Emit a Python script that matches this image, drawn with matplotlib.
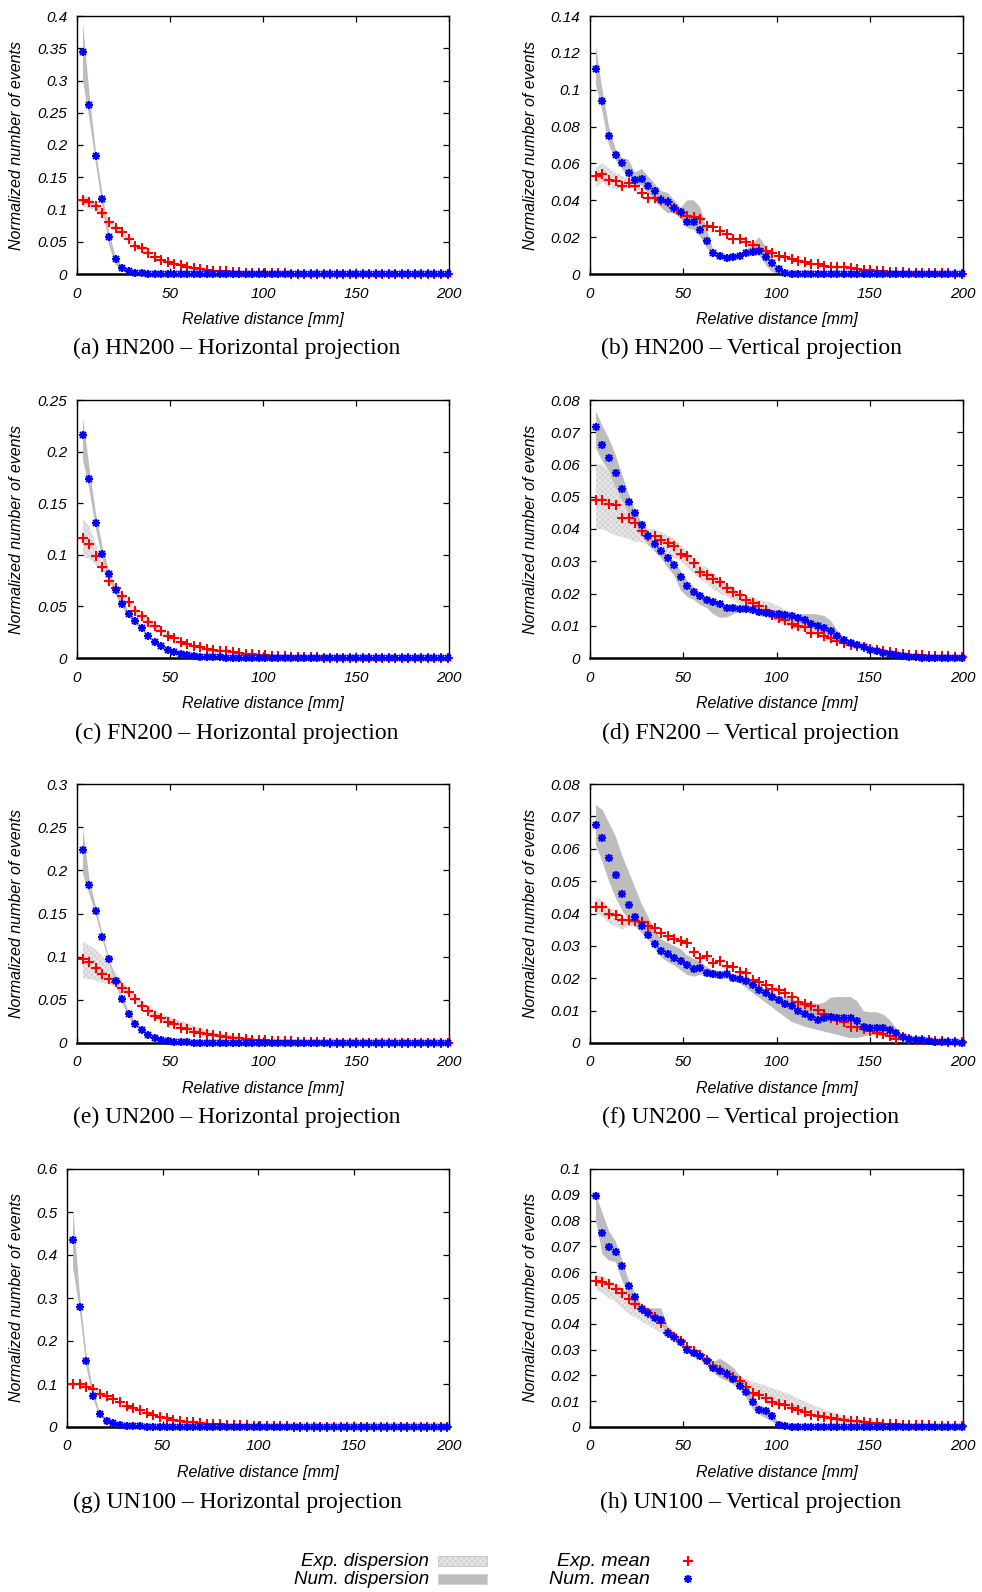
import numpy as np
import matplotlib
matplotlib.use("Agg")
import matplotlib.pyplot as plt
from matplotlib.patches import Rectangle

plt.rcParams['font.family'] = ['Liberation Sans', 'DejaVu Sans']
plt.rcParams['font.style'] = 'italic'
plt.rcParams['hatch.linewidth'] = 0.35

NPTS = 57
# bin centres of the distance histogram [mm]
dist = 3.2 + 3.5 * np.arange(NPTS)


def pad(vals):
    return np.array(vals + [0.0] * (NPTS - len(vals)))


# ---- (a) HN200 horizontal
a_num = pad([0.344, 0.262, 0.183, 0.117, 0.057, 0.023, 0.009, 0.004, 0.002, 0.001])
a_exp = pad([0.115, 0.111, 0.105, 0.094, 0.081, 0.071, 0.065, 0.054, 0.044, 0.041, 0.033, 0.027,
             0.022, 0.018, 0.016, 0.014, 0.011, 0.009, 0.008, 0.006, 0.005, 0.004, 0.004, 0.003,
             0.003, 0.002, 0.002, 0.002, 0.001, 0.001, 0.001, 0.001])
a_num_hi = [0.39, 0.28, 0.19, 0.125, 0.065, 0.028, 0.012, 0.005, 0.002]
a_num_lo = [0.30, 0.24, 0.17, 0.105, 0.045, 0.015, 0.005, 0.001, 0.0]
a_exp_hi = [0.122, 0.118, 0.110, 0.098, 0.084, 0.074, 0.067, 0.056, 0.046, 0.042, 0.034]
a_exp_lo = [0.104, 0.102, 0.099, 0.090, 0.078, 0.068, 0.062, 0.052, 0.042, 0.039, 0.032]

# ---- (b) HN200 vertical
b_num = pad([0.1115, 0.0937, 0.075, 0.0648, 0.060, 0.0549, 0.051, 0.0518, 0.048, 0.045, 0.040,
             0.039, 0.036, 0.0334, 0.028, 0.028, 0.024, 0.018, 0.0116, 0.0098, 0.0085, 0.009,
             0.0098, 0.0116, 0.0117, 0.0126, 0.0094, 0.0058, 0.0025, 0.0007])
b_exp = pad([0.053, 0.054, 0.051, 0.0504, 0.048, 0.0495, 0.048, 0.044, 0.041, 0.041, 0.040, 0.0388,
             0.036, 0.033, 0.0314, 0.0307, 0.0296, 0.026, 0.0256, 0.0235, 0.0217, 0.0188, 0.0188,
             0.0172, 0.0157, 0.0134, 0.0126, 0.0116, 0.0099, 0.0094, 0.0081, 0.007, 0.0067, 0.0054,
             0.0054, 0.0045, 0.004, 0.0036, 0.0036, 0.0033, 0.0025, 0.0022, 0.0022, 0.0018, 0.0014,
             0.0013, 0.0011, 0.0009, 0.0007, 0.0007, 0.0005, 0.0005, 0.0004, 0.0004, 0.0004, 0.0002,
             0.0002])
b_num_hi = [0.124, 0.100, 0.080, 0.068, 0.063, 0.062, 0.055, 0.057, 0.053, 0.049, 0.045, 0.044,
            0.040, 0.036, 0.040, 0.040, 0.036, 0.024, 0.013, 0.011, 0.010, 0.010, 0.011, 0.013,
            0.016, 0.020, 0.015, 0.009, 0.003, 0.001, 0.0]
b_num_lo = [0.103, 0.088, 0.070, 0.062, 0.057, 0.052, 0.048, 0.048, 0.044, 0.040, 0.036, 0.033,
            0.033, 0.030, 0.025, 0.024, 0.020, 0.014, 0.0095, 0.008, 0.0075, 0.008, 0.009, 0.010,
            0.010, 0.010, 0.005, 0.001, 0.0, 0.0, 0.0]
b_exp_hi = [0.058, 0.060, 0.057, 0.055, 0.053, 0.052, 0.050, 0.046]
b_exp_lo = [0.047, 0.050, 0.047, 0.046, 0.046, 0.047, 0.046, 0.042]

# ---- (c) FN200 horizontal
c_num = pad([0.216, 0.173, 0.131, 0.101, 0.081, 0.0655, 0.0526, 0.0429, 0.0358, 0.0287, 0.021,
             0.0155, 0.0113, 0.008, 0.0055, 0.0039, 0.0026, 0.0019, 0.0013, 0.001, 0.0006, 0.0005,
             0.0003, 0.0002, 0.0001])
c_exp = pad([0.116, 0.110, 0.099, 0.088, 0.0748, 0.068, 0.0597, 0.0539, 0.0455, 0.0403, 0.0348,
             0.0306, 0.0261, 0.0216, 0.0194, 0.0155, 0.0135, 0.0113, 0.0103, 0.009, 0.008, 0.0071,
             0.0065, 0.0055, 0.0048, 0.0042, 0.0035, 0.0032, 0.0029, 0.0023, 0.0019, 0.0016,
             0.0013, 0.001, 0.001, 0.0006, 0.0005, 0.0004, 0.0003, 0.0002, 0.0002, 0.0001])
c_num_hi = [0.233, 0.185, 0.140, 0.108, 0.085, 0.069, 0.056, 0.046, 0.038, 0.030, 0.022, 0.016]
c_num_lo = [0.192, 0.163, 0.125, 0.096, 0.077, 0.062, 0.050, 0.040, 0.033, 0.027, 0.020, 0.015]
c_exp_hi = [0.135, 0.127, 0.110, 0.092, 0.078, 0.070, 0.062, 0.056, 0.048, 0.044, 0.038, 0.033,
            0.028, 0.023, 0.021]
c_exp_lo = [0.098, 0.096, 0.090, 0.085, 0.072, 0.066, 0.057, 0.051, 0.043, 0.037, 0.031, 0.028,
            0.024, 0.020, 0.018]

# ---- (d) FN200 vertical
d_num = pad([0.0715, 0.0659, 0.0621, 0.0573, 0.0525, 0.0483, 0.0449, 0.0411, 0.0377, 0.0352,
             0.0332, 0.0309, 0.0288, 0.0251, 0.0224, 0.0204, 0.0191, 0.0181, 0.0174, 0.0168,
             0.0155, 0.0155, 0.0152, 0.0152, 0.0148, 0.0142, 0.0139, 0.0137, 0.0136, 0.0133,
             0.0129, 0.0123, 0.0117, 0.0105, 0.0098, 0.0092, 0.0083, 0.0067, 0.0055, 0.0046,
             0.0039, 0.0033, 0.0026, 0.0021, 0.0015, 0.0011, 0.0008, 0.0005, 0.0003, 0.0002,
             0.0001])
d_exp = pad([0.0489, 0.0489, 0.0479, 0.0473, 0.0435, 0.0433, 0.0418, 0.0395, 0.0379, 0.0378,
             0.0365, 0.0357, 0.0346, 0.0324, 0.0315, 0.0295, 0.0267, 0.0258, 0.0246, 0.0235,
             0.0217, 0.0205, 0.0196, 0.018, 0.0169, 0.016, 0.015, 0.0134, 0.0124, 0.0117,
             0.0105, 0.0098, 0.0095, 0.0079, 0.0077, 0.0067, 0.0062, 0.0052, 0.0046, 0.0041,
             0.0036, 0.0033, 0.0029, 0.0026, 0.0021, 0.0019, 0.0015, 0.0012, 0.001, 0.0009,
             0.0008, 0.0007, 0.0006, 0.0005, 0.0005, 0.0004, 0.0004])
d_num_hi = [0.0765, 0.072, 0.068, 0.063, 0.057, 0.051, 0.046, 0.042, 0.039, 0.036,
            0.034, 0.032, 0.030, 0.027, 0.024, 0.022, 0.020, 0.019, 0.018, 0.017,
            0.0165, 0.016, 0.016, 0.0158, 0.0155, 0.015, 0.0145, 0.0142, 0.014, 0.0138,
            0.0137, 0.0136, 0.0136, 0.0136, 0.0135, 0.013, 0.0115, 0.0085, 0.0065, 0.0052,
            0.0043, 0.0036, 0.003, 0.0024, 0.0018, 0.0014, 0.001, 0.0006, 0.0003]
d_num_lo = [0.065, 0.061, 0.058, 0.053, 0.049, 0.045, 0.041, 0.038, 0.035, 0.033,
            0.031, 0.028, 0.0255, 0.021, 0.019, 0.018, 0.0165, 0.0155, 0.0135, 0.0125,
            0.0125, 0.0135, 0.0145, 0.0145, 0.014, 0.0135, 0.013, 0.013, 0.0128, 0.0125,
            0.012, 0.011, 0.010, 0.0092, 0.0085, 0.0078, 0.0068, 0.0058, 0.0048, 0.004,
            0.0034, 0.003, 0.0022, 0.0017, 0.0012, 0.0008, 0.0005, 0.0002, 0.0]
d_exp_hi = [0.060, 0.060, 0.058, 0.056, 0.052, 0.048, 0.045, 0.042, 0.040, 0.040,
            0.039, 0.038, 0.037, 0.035, 0.033, 0.031, 0.029, 0.028, 0.026, 0.025,
            0.023, 0.022, 0.020, 0.019, 0.019, 0.018, 0.0175, 0.017, 0.016, 0.015,
            0.014, 0.013, 0.012, 0.0108, 0.0098, 0.0088, 0.008, 0.0072, 0.0064, 0.0056,
            0.0048, 0.0042, 0.0037, 0.003, 0.0025, 0.002, 0.0016]
d_exp_lo = [0.040, 0.040, 0.039, 0.038, 0.0375, 0.037, 0.036, 0.036, 0.035, 0.034,
            0.033, 0.032, 0.031, 0.030, 0.028, 0.026, 0.0245, 0.023, 0.021, 0.020,
            0.019, 0.018, 0.0165, 0.015, 0.014, 0.013, 0.0125, 0.012, 0.011, 0.010,
            0.0095, 0.0088, 0.008, 0.0072, 0.0066, 0.006, 0.0052, 0.0046, 0.004, 0.0035,
            0.003, 0.0026, 0.0022, 0.0018, 0.0014, 0.001, 0.0007]

# ---- (e) UN200 horizontal
e_num = pad([0.2238, 0.1827, 0.1529, 0.1231, 0.0968, 0.0716, 0.0515, 0.0333, 0.0225, 0.0147,
             0.0089, 0.0062, 0.0039, 0.0023, 0.0015, 0.0012, 0.0008, 0.0005, 0.0003, 0.0002,
             0.0001])
e_exp = pad([0.0968, 0.0933, 0.0871, 0.0805, 0.0743, 0.0708, 0.0639, 0.0585, 0.0507, 0.0434,
             0.0372, 0.0314, 0.029, 0.0244, 0.0225, 0.0178, 0.0166, 0.0128, 0.0116, 0.0101,
             0.0089, 0.0085, 0.007, 0.0062, 0.0054, 0.0046, 0.0039, 0.0039, 0.0031, 0.0027,
             0.0023, 0.0019, 0.0019, 0.0015, 0.0012, 0.0012, 0.0008, 0.0008, 0.0005, 0.0005,
             0.0004, 0.0003, 0.0003, 0.0002, 0.0002, 0.0001])
e_num_hi = [0.25, 0.19, 0.158, 0.127, 0.100, 0.075, 0.055, 0.037, 0.025, 0.017, 0.010, 0.007]
e_num_lo = [0.196, 0.172, 0.148, 0.120, 0.094, 0.069, 0.048, 0.030, 0.020, 0.013, 0.008, 0.005]
e_exp_hi = [0.118, 0.113, 0.108, 0.100, 0.092, 0.082, 0.072, 0.063, 0.055, 0.048,
            0.042, 0.038, 0.034, 0.031, 0.029, 0.026, 0.023, 0.020, 0.017, 0.015,
            0.013, 0.011, 0.0095, 0.0085, 0.0075, 0.0065, 0.0055, 0.0048]
e_exp_lo = [0.075, 0.074, 0.072, 0.070, 0.068, 0.065, 0.060, 0.055, 0.048, 0.041,
            0.035, 0.030, 0.026, 0.023, 0.020, 0.017, 0.015, 0.012, 0.011, 0.0095,
            0.0085, 0.0078, 0.0068, 0.006, 0.0052, 0.0044, 0.0037, 0.0033]

# ---- (f) UN200 vertical
f_num = pad([0.0673, 0.0634, 0.057, 0.0518, 0.046, 0.0425, 0.0388, 0.0362, 0.0333, 0.0306,
             0.0283, 0.0275, 0.0263, 0.0253, 0.0242, 0.023, 0.0231, 0.0217, 0.0212, 0.021,
             0.0212, 0.0202, 0.0198, 0.0192, 0.0178, 0.0165, 0.0155, 0.0142, 0.0132, 0.0122,
             0.0114, 0.0099, 0.0091, 0.0081, 0.0072, 0.0078, 0.0081, 0.0078, 0.0077, 0.0077,
             0.0068, 0.005, 0.0047, 0.0046, 0.0047, 0.0041, 0.0031, 0.0019, 0.0012, 0.0008,
             0.0008, 0.0006, 0.0004, 0.0003, 0.0002, 0.0002, 0.0001])
f_exp = pad([0.0421, 0.0421, 0.0397, 0.0394, 0.038, 0.038, 0.0376, 0.0374, 0.0361, 0.0355,
             0.0341, 0.0332, 0.032, 0.0316, 0.0308, 0.0281, 0.0263, 0.0268, 0.0248, 0.0252,
             0.0239, 0.0235, 0.022, 0.0215, 0.0194, 0.0189, 0.0178, 0.0168, 0.0163, 0.0153,
             0.0142, 0.0126, 0.012, 0.0114, 0.0103, 0.0091, 0.0078, 0.007, 0.0065, 0.005,
             0.005, 0.0043, 0.0037, 0.0031, 0.0027, 0.0021, 0.0012, 0.0017, 0.0013, 0.001,
             0.0008, 0.0008, 0.0006, 0.0006, 0.0004, 0.0003, 0.0002])
f_num_hi = [0.0735, 0.072, 0.068, 0.064, 0.058, 0.053, 0.048, 0.043, 0.039, 0.035,
            0.032, 0.031, 0.030, 0.029, 0.027, 0.026, 0.025, 0.0235, 0.0225, 0.022,
            0.0222, 0.021, 0.0205, 0.020, 0.019, 0.0178, 0.0165, 0.0155, 0.0145, 0.014,
            0.0135, 0.013, 0.0128, 0.0125, 0.012, 0.0125, 0.014, 0.0142, 0.0142, 0.0142,
            0.013, 0.0098, 0.0095, 0.0095, 0.0088, 0.0072, 0.0045, 0.0025, 0.0012, 0.0007,
            0.0004]
f_num_lo = [0.061, 0.056, 0.050, 0.045, 0.041, 0.038, 0.036, 0.034, 0.032, 0.029,
            0.0265, 0.025, 0.024, 0.0225, 0.021, 0.0205, 0.021, 0.0205, 0.020, 0.0198,
            0.0198, 0.019, 0.0185, 0.017, 0.0155, 0.014, 0.0125, 0.011, 0.0095, 0.008,
            0.0065, 0.0058, 0.005, 0.0045, 0.004, 0.0035, 0.003, 0.0025, 0.002, 0.0015,
            0.0015, 0.002, 0.0025, 0.0025, 0.0022, 0.0018, 0.0012, 0.0008, 0.0004, 0.0002,
            0.0001]
f_exp_hi = [0.045, 0.044, 0.042, 0.041, 0.039, 0.038, 0.038]
f_exp_lo = [0.040, 0.039, 0.037, 0.036, 0.035, 0.036, 0.036]

# ---- (g) UN100 horizontal
g_num = pad([0.435, 0.2795, 0.153, 0.072, 0.030, 0.0147, 0.0085, 0.0054, 0.0031, 0.0023, 0.0015,
             0.001, 0.0008, 0.0005, 0.0003, 0.0002, 0.0001])
g_exp = pad([0.0991, 0.0991, 0.0929, 0.0883, 0.0774, 0.0728, 0.0658, 0.0581, 0.0488, 0.0434,
             0.0387, 0.0317, 0.0279, 0.0232, 0.0201, 0.017, 0.0147, 0.0124, 0.0108, 0.0093,
             0.0077, 0.007, 0.0062, 0.0054, 0.0046, 0.0039, 0.0039, 0.0031, 0.0031, 0.0023,
             0.0023, 0.0015, 0.0012, 0.001, 0.0008, 0.0006, 0.0005, 0.0004, 0.0003, 0.0002,
             0.0002, 0.0001])
g_num_hi = [0.51, 0.31, 0.17, 0.085, 0.035, 0.018, 0.010, 0.006]
g_num_lo = [0.37, 0.27, 0.14, 0.065, 0.025, 0.011, 0.006, 0.004]
g_exp_hi = [0.103, 0.102, 0.096, 0.091, 0.080, 0.075]
g_exp_lo = [0.096, 0.096, 0.090, 0.086, 0.075, 0.071]

# ---- (h) UN100 vertical
h_num = pad([0.0897, 0.0751, 0.0699, 0.0679, 0.0625, 0.0545, 0.0503, 0.0458, 0.0441, 0.0422,
             0.0415, 0.0366, 0.0348, 0.0329, 0.0299, 0.0286, 0.0274, 0.0254, 0.0228, 0.0217,
             0.0205, 0.0186, 0.016, 0.0135, 0.0095, 0.0067, 0.0061, 0.0044, 0.0009, 0.0004])
h_exp = pad([0.0566, 0.0561, 0.0554, 0.0535, 0.0521, 0.0498, 0.0475, 0.0458, 0.0441, 0.0425,
             0.0403, 0.0366, 0.0347, 0.0335, 0.0312, 0.0294, 0.028, 0.0258, 0.0237, 0.0219,
             0.0205, 0.0192, 0.0177, 0.0155, 0.0132, 0.0124, 0.0112, 0.0098, 0.009, 0.0084,
             0.0074, 0.0065, 0.0057, 0.0046, 0.0041, 0.0039, 0.0035, 0.0031, 0.0028, 0.0022,
             0.0022, 0.0019, 0.0015, 0.0014, 0.0013, 0.0012, 0.001, 0.0009, 0.0008, 0.0008,
             0.0006, 0.0006, 0.0005, 0.0005, 0.0004, 0.0004, 0.0003])
h_num_hi = [0.090, 0.083, 0.076, 0.072, 0.065, 0.057, 0.052, 0.047, 0.046, 0.046,
            0.046, 0.039, 0.036, 0.034, 0.031, 0.0295, 0.028, 0.026, 0.025, 0.0265,
            0.025, 0.023, 0.020, 0.0165, 0.012, 0.0085, 0.0075, 0.0055, 0.0015, 0.0005]
h_num_lo = [0.080, 0.067, 0.0645, 0.064, 0.057, 0.050, 0.046, 0.044, 0.042, 0.041,
            0.040, 0.035, 0.033, 0.031, 0.0285, 0.027, 0.026, 0.0245, 0.021, 0.019,
            0.018, 0.0165, 0.0145, 0.0115, 0.007, 0.0048, 0.0035, 0.002, 0.0, 0.0]
h_exp_hi = [0.059, 0.0585, 0.057, 0.0555, 0.054, 0.052, 0.050, 0.048, 0.046, 0.044,
            0.042, 0.0395, 0.037, 0.0345, 0.032, 0.0305, 0.029, 0.027, 0.025, 0.023,
            0.0215, 0.0205, 0.0195, 0.0185, 0.0175, 0.0168, 0.016, 0.015, 0.0142, 0.0133,
            0.0122, 0.011, 0.0098, 0.0087, 0.0077, 0.0068, 0.0058, 0.005, 0.0043, 0.0036,
            0.003, 0.0025, 0.0021]
h_exp_lo = [0.053, 0.052, 0.050, 0.0485, 0.046, 0.044, 0.0425, 0.041, 0.0395, 0.038,
            0.0365, 0.035, 0.0335, 0.0315, 0.0295, 0.028, 0.0265, 0.0245, 0.0225, 0.0205,
            0.019, 0.017, 0.0155, 0.0135, 0.012, 0.011, 0.010, 0.009, 0.0082, 0.0075,
            0.0066, 0.0058, 0.005, 0.0043, 0.0037, 0.0031, 0.0026, 0.0022, 0.0019, 0.0016,
            0.0013, 0.0011, 0.0009]

captions = ["(a) HN200 \u2013 Horizontal projection", "(b) HN200 \u2013 Vertical projection",
            "(c) FN200 \u2013 Horizontal projection", "(d) FN200 \u2013 Vertical projection",
            "(e) UN200 \u2013 Horizontal projection", "(f) UN200 \u2013 Vertical projection",
            "(g) UN100 \u2013 Horizontal projection", "(h) UN100 \u2013 Vertical projection"]
y_max = [0.4, 0.14, 0.25, 0.08, 0.3, 0.08, 0.6, 0.1]
y_step = [0.05, 0.02, 0.05, 0.01, 0.05, 0.01, 0.1, 0.01]

panels = [
    (a_exp, a_num, a_exp_lo, a_exp_hi, a_num_lo, a_num_hi),
    (b_exp, b_num, b_exp_lo, b_exp_hi, b_num_lo, b_num_hi),
    (c_exp, c_num, c_exp_lo, c_exp_hi, c_num_lo, c_num_hi),
    (d_exp, d_num, d_exp_lo, d_exp_hi, d_num_lo, d_num_hi),
    (e_exp, e_num, e_exp_lo, e_exp_hi, e_num_lo, e_num_hi),
    (f_exp, f_num, f_exp_lo, f_exp_hi, f_num_lo, f_num_hi),
    (g_exp, g_num, g_exp_lo, g_exp_hi, g_num_lo, g_num_hi),
    (h_exp, h_num, h_exp_lo, h_exp_hi, h_num_lo, h_num_hi),
]

W, H = 982, 1592
EXP_FACE, EXP_HATCH = '#e6e6e6', '#c4c4c4'
NUM_FACE = '#bdbdbd'
RED, BLUE = '#ff0000', '#0000ff'

fig = plt.figure(figsize=(W / 100, H / 100), dpi=100)


def px_rect(l, t, r, b):
    return [l / W, 1 - b / H, (r - l) / W, (b - t) / H]


def asterisk(ax, x, y, **kw):
    # gnuplot style point: a plus laid over a cross
    ax.plot(x, y, linestyle='none', marker='+', color=BLUE, ms=6, mew=1.5, **kw)
    ax.plot(x, y, linestyle='none', marker='x', color=BLUE, ms=4.6, mew=1.5, **kw)


rows = [(16, 274), (400, 658), (784, 1043), (1169, 1427)]
cap_y = [348, 733, 1117, 1502]

for i, (exp_m, num_m, exp_lo, exp_hi, num_lo, num_hi) in enumerate(panels):
    row, col = divmod(i, 2)
    top, bot = rows[row]
    if col == 0:
        left = 67 if i == 6 else 77
        right = 449
        cap_x = 237
        ylab_x = 24
    else:
        left, right = 590, 963
        cap_x = 751
        ylab_x = 538
    ax = fig.add_axes(px_rect(left, top, right, bot))

    ne = len(exp_lo)
    ax.fill_between(dist[:ne], exp_lo, exp_hi, facecolor=EXP_FACE, edgecolor=EXP_HATCH,
                    hatch='xxxxxx', linewidth=0, zorder=1)
    nn = len(num_lo)
    ax.fill_between(dist[:nn], num_lo, num_hi, facecolor=NUM_FACE, edgecolor='none',
                    linewidth=0, zorder=2)
    ax.plot(dist, exp_m, linestyle='none', marker='+', color=RED, ms=6.5, mew=1.5,
            zorder=3, clip_on=False)
    asterisk(ax, dist, num_m, zorder=4, clip_on=False)

    ax.set_xlim(0, 200)
    ax.set_ylim(0, y_max[i])
    ax.set_xticks([0, 50, 100, 150, 200])
    yt = np.round(np.arange(0, y_max[i] + y_step[i] / 2, y_step[i]), 3)
    ax.set_yticks(yt)
    ax.set_yticklabels(['%g' % v for v in yt])
    ax.tick_params(direction='in', length=4, width=0.9, top=True, right=True,
                   labelsize=11, colors='black')
    ax.tick_params(axis='y', pad=7)
    ax.tick_params(axis='x', pad=9)
    for s in ax.spines.values():
        s.set_linewidth(1.0)
    ax.spines['bottom'].set_linewidth(1.8)

    ax.set_xlabel('Relative distance [mm]', fontsize=11.5)
    ax.xaxis.set_label_coords(0.5, -38 / (bot - top), transform=ax.transAxes)
    ax.set_ylabel('Normalized number of events', fontsize=11.5)
    ax.yaxis.set_label_coords((ylab_x - left) / (right - left), 0.5)

    fig.text(cap_x / W, 1 - cap_y[row] / H, captions[i], family='Liberation Serif',
             style='normal', fontsize=17, ha='center', va='center')

# legend block at the bottom
leg = fig.add_axes([0, 0, 1, 1], zorder=-1)
leg.set_xlim(0, W)
leg.set_ylim(H, 0)
leg.axis('off')
leg.text(429, 1561, 'Exp. dispersion', fontsize=13.5, ha='right', va='center')
leg.text(429, 1579, 'Num. dispersion', fontsize=13.5, ha='right', va='center')
leg.add_patch(Rectangle((438, 1556), 49, 10, facecolor=EXP_FACE, edgecolor=EXP_HATCH,
                        hatch='xxxxxx', linewidth=0.6))
leg.add_patch(Rectangle((438, 1574), 49, 10, facecolor=NUM_FACE, edgecolor='#d0d0d0',
                        linewidth=0.6))
leg.text(650, 1561, 'Exp. mean', fontsize=14, ha='right', va='center')
leg.text(650, 1579, 'Num. mean', fontsize=14, ha='right', va='center')
leg.plot([688], [1561], marker='+', color=RED, ms=6.5, mew=1.5)
asterisk(leg, [688], [1579])

fig.savefig('out.png', dpi=100)
